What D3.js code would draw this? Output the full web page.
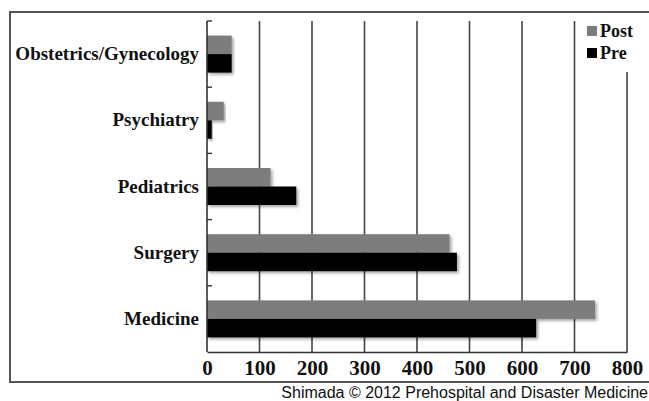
<!DOCTYPE html>
<meta charset="utf-8">
<script src="https://d3js.org/d3.v7.min.js"></script>
<style>
  body{margin:0;background:#fff;}
  text{font-family:"Liberation Serif",serif;font-weight:bold;fill:#111;}
</style>
<div id="chart"></div>
<script>
    // values
    const categories = ["Obstetrics/Gynecology","Psychiatry","Pediatrics","Surgery","Medicine"];
    const series = ["Post","Pre"];
    const postValues = [47, 32, 121, 462, 739];
    const preValues = [47, 9, 170, 476, 627];
    const xTicks = [0,100,200,300,400,500,600,700,800];
    const caption = "Shimada \u00A9 2012 Prehospital and Disaster Medicine";

    const W=649, H=401;
    const margin={top:21,left:207,right:22,bottom:49},
        width=W-margin.left-margin.right,
        height=H-margin.top-margin.bottom;

    const svg=d3.select("#chart").append("svg")
        .attr("width",W).attr("height",H);

    const defs=svg.append("defs");
    const f=defs.append("filter").attr("id","shadow")
        .attr("x","-5%").attr("y","-20%").attr("width","115%").attr("height","160%");
    f.append("feDropShadow").attr("dx",2).attr("dy",2).attr("stdDeviation",1.5)
        .attr("flood-color","#000").attr("flood-opacity",0.35);

    // outer frame
    svg.append("rect")
        .attr("x",10).attr("y",12).attr("width",W).attr("height",370)
        .attr("fill","none").attr("stroke","#555").attr("stroke-width",2);

    const g=svg.append("g").attr("transform",`translate(${margin.left},${margin.top})`);

    const x=d3.scaleLinear().domain([0,800]).range([0,width]);
    const y=d3.scaleBand().domain(categories).range([0,height]);
    const ySub=d3.scaleBand().domain(series).range([y.bandwidth()/2-18.5,y.bandwidth()/2+18.5]);
    const color=d3.scaleOrdinal().domain(series).range(["#7d7d7d","#000"]);

    // vertical gridlines
    g.append("g").selectAll("line")
        .data(xTicks.slice(1))
        .join("line")
            .attr("x1",d=>x(d)).attr("x2",d=>x(d))
            .attr("y1",d=>d===800?51:0).attr("y2",height)
            .attr("stroke","#444").attr("stroke-width",1.6);

    // bars
    const rows=categories.map((c,i)=>({cat:c,vals:[{s:"Post",v:postValues[i]},{s:"Pre",v:preValues[i]}]}));
    g.append("g").selectAll("g")
        .data(rows)
        .join("g")
            .attr("transform",d=>`translate(0,${y(d.cat)})`)
        .selectAll("rect")
        .data(d=>d.vals)
        .join("rect")
            .attr("x",0)
            .attr("y",d=>ySub(d.s))
            .attr("width",d=>x(d.v))
            .attr("height",ySub.bandwidth())
            .attr("fill",d=>color(d.s))
            .attr("filter","url(#shadow)");

    // bottom axis
    const xa=g.append("g")
        .attr("transform",`translate(0,${height})`)
        .call(d3.axisBottom(x).tickValues(xTicks).tickSize(0).tickPadding(8));
    xa.select(".domain").attr("stroke","#333").attr("stroke-width",1.6);
    xa.selectAll("text").style("font-size","21px").attr("fill","#222");

    // left axis
    const ya=g.append("g")
        .call(d3.axisLeft(y).tickSize(0).tickPadding(8));
    ya.select(".domain").remove();
    ya.selectAll("text").style("font-size","19px").attr("fill","#111");
    g.append("line").attr("x1",0).attr("x2",0).attr("y1",0).attr("y2",height)
        .attr("stroke","#333").attr("stroke-width",1.6);
    // small ticks at band edges
    g.append("g").selectAll("line")
        .data(categories)
        .join("line")
            .attr("x1",0).attr("x2",5)
            .attr("y1",d=>y(d)).attr("y2",d=>y(d))
            .attr("stroke","#333").attr("stroke-width",1.4);

    // legend
    const lg=svg.append("g").attr("transform","translate(587,24)");
    series.forEach((s,i)=>{
        lg.append("rect").attr("x",0).attr("y",i*22+2).attr("width",10).attr("height",10)
            .attr("fill",color(s));
        lg.append("text").attr("x",13).attr("y",i*22+13)
            .style("font-size","18px").text(s);
    });

    // caption
    svg.append("text")
        .attr("x",648).attr("y",398).attr("text-anchor","end")
        .style("font-family","'Liberation Sans',Arial,sans-serif")
        .style("font-weight","normal").style("font-size","16px")
        .text(caption);
</script>
